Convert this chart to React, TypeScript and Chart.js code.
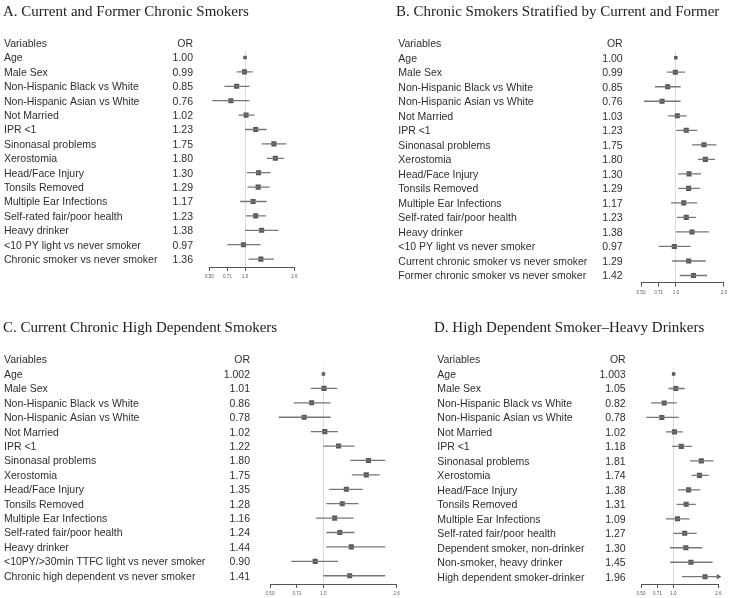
import React, { useEffect, useRef } from 'react';
import { Chart, registerables } from 'chart.js';
Chart.register(...registerables);

// ---------- axis ----------
const tickValues = [0.5, 0.71, 1.0, 2.6];
const tickLabels = ['0.50', '0.71', '1.0', '2.6'];
const X_MIN = 0.5;
const X_MAX = 2.6;

const headerVariables = 'Variables';
const headerOR = 'OR';

// ---------- Panel A ----------
const titleA = 'A. Current and Former Chronic Smokers';
const labelsA = [
  'Age', 'Male Sex', 'Non-Hispanic Black vs White', 'Non-Hispanic Asian vs White', 'Not Married', 'IPR <1',
  'Sinonasal problems', 'Xerostomia', 'Head/Face Injury', 'Tonsils Removed', 'Multiple Ear Infections',
  'Self-rated fair/poor health', 'Heavy drinker', '<10 PY light vs never smoker', 'Chronic smoker vs never smoker',
];
const orA = ['1.00', '0.99', '0.85', '0.76', '1.02', '1.23', '1.75', '1.80', '1.30', '1.29', '1.17', '1.23', '1.38', '0.97', '1.36'];
const loA = [0.99, 0.85, 0.67, 0.53, 0.88, 1.00, 1.38, 1.53, 1.04, 1.05, 0.91, 1.02, 1.00, 0.71, 1.07];
const hiA = [1.01, 1.16, 1.09, 1.09, 1.20, 1.52, 2.23, 2.14, 1.64, 1.61, 1.52, 1.50, 1.91, 1.35, 1.75];

// ---------- Panel B ----------
const titleB = 'B. Chronic Smokers Stratified by Current and Former';
const labelsB = [
  'Age', 'Male Sex', 'Non-Hispanic Black vs White', 'Non-Hispanic Asian vs White', 'Not Married', 'IPR <1',
  'Sinonasal problems', 'Xerostomia', 'Head/Face Injury', 'Tonsils Removed', 'Multiple Ear Infections',
  'Self-rated fair/poor health', 'Heavy drinker', '<10 PY light vs never smoker',
  'Current chronic smoker vs never smoker', 'Former chronic smoker vs never smoker',
];
const orB = ['1.00', '0.99', '0.85', '0.76', '1.03', '1.23', '1.75', '1.80', '1.30', '1.29', '1.17', '1.23', '1.38', '0.97', '1.29', '1.42'];
const loB = [0.99, 0.84, 0.66, 0.53, 0.86, 1.01, 1.38, 1.55, 1.05, 1.05, 0.91, 1.02, 1.00, 0.71, 0.93, 1.08];
const hiB = [1.01, 1.20, 1.10, 1.10, 1.24, 1.53, 2.25, 2.18, 1.65, 1.61, 1.53, 1.50, 1.93, 1.34, 1.81, 1.86];

// ---------- Panel C ----------
const titleC = 'C. Current Chronic High Dependent Smokers';
const labelsC = [
  'Age', 'Male Sex', 'Non-Hispanic Black vs White', 'Non-Hispanic Asian vs White', 'Not Married', 'IPR <1',
  'Sinonasal problems', 'Xerostomia', 'Head/Face Injury', 'Tonsils Removed', 'Multiple Ear Infections',
  'Self-rated fair/poor health', 'Heavy drinker', '<10PY/>30min TTFC light vs never smoker',
  'Chronic high dependent vs never smoker',
];
const orC = ['1.002', '1.01', '0.86', '0.78', '1.02', '1.22', '1.80', '1.75', '1.35', '1.28', '1.16', '1.24', '1.44', '0.90', '1.41'];
const loC = [0.995, 0.85, 0.68, 0.56, 0.85, 1.00, 1.42, 1.45, 1.08, 1.04, 0.91, 1.04, 1.04, 0.66, 1.00];
const hiC = [1.01, 1.20, 1.10, 1.10, 1.21, 1.50, 2.24, 2.08, 1.67, 1.58, 1.48, 1.50, 2.24, 1.21, 2.24];

// ---------- Panel D ----------
const titleD = 'D. High Dependent Smoker\u2013Heavy Drinkers';
const labelsD = [
  'Age', 'Male Sex', 'Non-Hispanic Black vs White', 'Non-Hispanic Asian vs White', 'Not Married', 'IPR <1',
  'Sinonasal problems', 'Xerostomia', 'Head/Face Injury', 'Tonsils Removed', 'Multiple Ear Infections',
  'Self-rated fair/poor health', 'Dependent smoker, non-drinker', 'Non-smoker, heavy drinker',
  'High dependent smoker-drinker',
];
const orD = ['1.003', '1.05', '0.82', '0.78', '1.02', '1.18', '1.81', '1.74', '1.38', '1.31', '1.09', '1.27', '1.30', '1.45', '1.96'];
const loD = [0.995, 0.90, 0.62, 0.56, 0.85, 0.97, 1.42, 1.47, 1.10, 1.07, 0.85, 1.00, 0.93, 0.93, 1.20];
const hiD = [1.01, 1.27, 1.07, 1.12, 1.22, 1.48, 2.34, 2.12, 1.77, 1.61, 1.41, 1.64, 1.85, 2.30, 3.20];

// ---------- layout (positions only) ----------
const W = 730;
const H = 598;
const AXIS_H = 20;
const TEXT_DY = 1;

type PanelLayout = {
  titleX: number; titleY: number; labelX: number; orX: number;
  xLeft: number; xRight: number; rowTop: number; rowStep: number; axisY: number;
};
type Panel = { title: string; labels: string[]; or: string[]; lo: number[]; hi: number[]; layout: PanelLayout };

const panels: Panel[] = [
  { title: titleA, labels: labelsA, or: orA, lo: loA, hi: hiA,
    layout: { titleX: 3, titleY: 15.5, labelX: 4, orX: 193, xLeft: 209.3, xRight: 294.3, rowTop: 57.5, rowStep: 14.4, axisY: 267 } },
  { title: titleB, labels: labelsB, or: orB, lo: loB, hi: hiB,
    layout: { titleX: 396, titleY: 15.5, labelX: 398.3, orX: 622.7, xLeft: 641, xRight: 725, rowTop: 57.7, rowStep: 14.52, axisY: 282.7 } },
  { title: titleC, labels: labelsC, or: orC, lo: loC, hi: hiC,
    layout: { titleX: 3, titleY: 331.7, labelX: 4, orX: 250, xLeft: 270, xRight: 396.7, rowTop: 374, rowStep: 14.41, axisY: 584 } },
  { title: titleD, labels: labelsD, or: orD, lo: loD, hi: hiD,
    layout: { titleX: 434, titleY: 331.7, labelX: 437.3, orX: 625.7, xLeft: 641, xRight: 718.3, rowTop: 374, rowStep: 14.48, axisY: 584 } },
];

const SANS = '"Liberation Sans", Arial, Helvetica, sans-serif';
const SERIF = '"Liberation Serif", "Times New Roman", Times, serif';

function textPlugin(p: Panel) {
  return {
    id: 'forestText',
    afterDraw(chart: any) {
      const ctx = chart.ctx as CanvasRenderingContext2D;
      const ys = chart.scales.y;
      const L = p.layout;
      ctx.save();
      ctx.fillStyle = '#222';
      ctx.font = `15px ${SERIF}`;
      ctx.textAlign = 'left';
      ctx.textBaseline = 'alphabetic';
      ctx.fillText(p.title, L.titleX, L.titleY);

      ctx.font = `10.5px ${SANS}`;
      ctx.fillStyle = '#2e2e2e';
      ctx.textBaseline = 'middle';
      const rows = [{ label: headerVariables, or: headerOR, i: -1 }].concat(
        p.labels.map((label, i) => ({ label, or: p.or[i], i }))
      );
      rows.forEach((r) => {
        const y = ys.getPixelForValue(r.i) + TEXT_DY;
        ctx.textAlign = 'left';
        ctx.fillText(r.label, L.labelX, y);
        ctx.textAlign = 'right';
        ctx.fillText(r.or, L.orX, y);
      });
      ctx.restore();
    },
  };
}

function buildConfig(p: Panel): any {
  const L = p.layout;
  const ciData: any[] = [];
  p.lo.forEach((lo, i) => {
    ciData.push({ x: lo, y: i }, { x: p.hi[i], y: i }, { x: p.hi[i], y: null });
  });
  const pointData = p.or.map((s, i) => ({ x: Number(s), y: i }));
  const arrowData = p.hi
    .map((h, i) => (h > X_MAX ? { x: X_MAX, y: i } : null))
    .filter((d) => d !== null);

  return {
    type: 'scatter',
    data: {
      datasets: [
        {
          type: 'line', data: ciData, borderColor: '#767676', borderWidth: 1.3,
          pointRadius: 0, spanGaps: false, fill: false, tension: 0,
        },
        {
          type: 'scatter', data: pointData, pointStyle: 'rect',
          pointRadius: (c: any) => (c.dataIndex === 0 ? 2.5 : 3.6),
          backgroundColor: '#585858', borderWidth: 0,
        },
        {
          type: 'scatter', data: arrowData, pointStyle: 'triangle', rotation: 90,
          pointRadius: 3, backgroundColor: '#585858', borderWidth: 0, clip: false,
        },
      ],
    },
    options: {
      responsive: false,
      animation: false,
      events: [],
      layout: {
        padding: {
          left: L.xLeft,
          right: W - L.xRight,
          top: L.rowTop - 0.5 * L.rowStep,
          bottom: H - L.axisY - AXIS_H,
        },
      },
      plugins: { legend: { display: false }, tooltip: { enabled: false }, title: { display: false } },
      scales: {
        x: {
          type: 'logarithmic', position: 'bottom', min: X_MIN, max: X_MAX, bounds: 'data',
          afterBuildTicks: (s: any) => { s.ticks = tickValues.map((v) => ({ value: v })); },
          afterFit: (s: any) => { s.height = AXIS_H; },
          ticks: {
            autoSkip: false, maxRotation: 0, minRotation: 0, padding: 3, color: '#555',
            font: { size: 4.5, family: SANS },
            callback: (_v: any, i: number) => tickLabels[i],
          },
          grid: {
            color: (c: any) => (c.tick && c.tick.value === 1 ? '#dcdcdc' : 'rgba(0,0,0,0)'),
            tickColor: '#555', tickLength: 4, lineWidth: 1, drawTicks: true,
          },
          border: { display: true, color: '#555', width: 1 },
        },
        y: {
          type: 'linear', display: false, reverse: true,
          min: -0.5, max: (L.axisY - L.rowTop) / L.rowStep,
        },
      },
    },
    plugins: [textPlugin(p)],
  };
}

export default function App() {
  const refs = [useRef<HTMLCanvasElement>(null), useRef<HTMLCanvasElement>(null), useRef<HTMLCanvasElement>(null), useRef<HTMLCanvasElement>(null)];
  useEffect(() => {
    const charts = panels.map((p, i) => new Chart(refs[i].current as HTMLCanvasElement, buildConfig(p)));
    return () => charts.forEach((c) => c.destroy());
  }, []);
  return (
    <div style={{ position: 'absolute', left: 0, top: 0, width: W, height: H, background: '#fff' }}>
      {refs.map((r, i) => (
        <canvas key={i} ref={r} width={W} height={H}
          style={{ position: 'absolute', left: 0, top: 0, width: W, height: H }} />
      ))}
    </div>
  );
}
